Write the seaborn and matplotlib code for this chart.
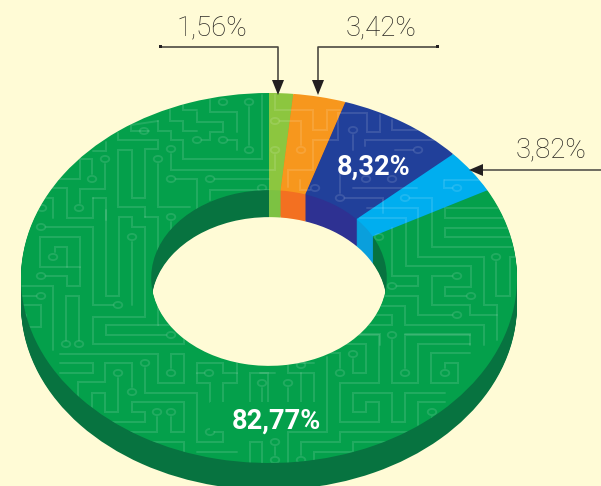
####
#imports
####

import matplotlib
matplotlib.use("Agg")
import matplotlib.pyplot as plt
from matplotlib.patches import Wedge, Rectangle, Polygon
from matplotlib.path import Path
from matplotlib.transforms import Affine2D
import seaborn as sns

####
#data
####

shares = [1.56, 3.42, 8.32, 3.82, 82.77]
share_labels = ["1,56%", "3,42%", "8,32%", "3,82%", "82,77%"]
top_colors = ["#8cc63f", "#f7971d", "#21409a", "#00aeef", "#04a04b"]
wall_colors = ["#7cc242", "#f37021", "#2e3192", "#0a9fdc", "#077340"]

BG = "#fffbd6"

# circuit decoration on the top face, in picture pixels
traces = [
    [(118,133),(118,140),(158,140),(158,149),(145,149),(145,198),(132,198),(132,150),(118,150),(118,207),(145,207),(145,217)],
    [(158,164),(158,207),(190,207)],
    [(171,154),(171,170),(275,170),(275,155)],
    [(176,179),(197,179),(197,213)],
    [(158,121),(158,131),(171,131),(171,140),(183,140),(183,159),(262,159),(262,95)],
    [(170,110),(170,121),(183,121),(183,131),(197,131)],
    [(183,105),(183,110),(197,110)],
    [(149,131),(131,131),(131,125),(158,121)],
    [(105,164),(105,189),(80,189),(80,203)],
    [(92,174),(92,159),(80,159),(80,179),(57,179)],
    [(93,198),(106,198),(106,220)],
    [(93,198),(93,218),(67,218),(67,188),(45,188)],
    [(43,198),(53,198),(53,218)],
    [(93,151),(106,151),(106,142)],
    [(210,100),(210,112),(237,112),(237,132)],
    [(197,112),(197,122),(223,122),(223,132),(210,132),(210,140),(202,140)],
    [(228,140),(237,140),(237,150)],
    [(249,107),(249,145)],
    [(215,179),(269,179)],
    [(210,200),(210,190),(269,190)],
    [(46,227),(93,227),(93,305),(113,305)],
    [(40,237),(80,237),(80,267),(40,267),(40,237)],
    [(55,252),(55,247),(67,247),(67,267)],
    [(46,276),(67,276),(67,286),(80,286),(80,267)],
    [(22,286),(53,286),(53,350)],
    [(22,296),(36,296)],
    [(22,305),(41,305),(41,327),(22,327)],
    [(66,340),(66,296),(79,296),(79,340)],
    [(106,210),(106,296),(119,296),(119,217),(132,217),(132,227),(145,227),(145,317),(93,317),(93,344),(184,344),(184,335)],
    [(132,242),(132,305)],
    [(145,217),(158,217),(158,325),(106,325),(106,335),(166,335)],
    [(171,222),(171,232)],
    [(158,325),(171,325)],
    [(60,354),(158,354),(158,383),(184,383),(184,354),(171,354),(171,368)],
    [(60,363),(93,363),(93,373),(60,373)],
    [(132,387),(132,363),(105,363),(105,382),(78,382),(78,397)],
    [(118,378),(118,412),(105,412),(105,393),(92,393),(92,407)],
    [(145,368),(145,393),(197,393),(197,442),(223,442),(223,432),(215,432)],
    [(171,417),(171,432),(184,432),(184,402),(132,402),(132,412),(145,412),(145,422),(105,422)],
    [(157,417),(157,432),(120,432)],
    [(120,442),(184,442),(184,452)],
    [(204,373),(197,373),(197,363),(223,363),(223,373),(237,373),(237,363)],
    [(197,373),(197,383),(210,383),(210,402)],
    [(237,373),(237,383),(223,383),(223,402)],
    [(250,402),(250,373),(268,373),(268,402)],
    [(262,388),(262,402)],
    [(197,452),(237,452)],
    [(250,465),(250,442),(262,442),(262,465)],
    [(260,373),(275,373)],
    [(288,363),(288,373),(314,373),(314,402)],
    [(288,363),(314,363)],
    [(288,388),(288,402)],
    [(301,373),(301,402)],
    [(327,357),(327,432),(288,432),(288,465)],
    [(275,447),(275,455)],
    [(301,455),(301,442),(340,442),(340,432),(407,432)],
    [(314,470),(314,452),(353,452),(353,442),(400,442)],
    [(340,368),(340,353),(328,353)],
    [(353,359),(353,373),(366,373),(366,344),(340,344)],
    [(353,335),(379,335),(379,383),(340,383),(340,422),(379,422),(379,402),(366,402),(366,412),(353,412),(353,393),(392,393),(392,422),(405,422),(405,393),(445,393)],
    [(392,340),(392,383),(418,383),(418,344),(470,344)],
    [(405,368),(405,335),(470,335)],
    [(470,353),(431,353),(431,383),(458,383),(458,363),(445,363),(445,368)],
    [(445,402),(418,402),(418,425)],
    [(432,417),(432,425)],
    [(360,218),(406,218),(406,266),(471,266),(471,287),(445,287),(445,296),(466,296)],
    [(367,208),(418,208),(418,257),(484,257),(484,305),(497,305),(497,340)],
    [(410,198),(432,198),(432,247),(512,247)],
    [(444,180),(444,188),(452,188)],
    [(505,208),(445,208),(445,218),(510,218)],
    [(512,228),(445,228),(445,237),(512,237)],
    [(392,228),(392,276),(418,276),(418,286),(397,286)],
    [(452,276),(432,276),(432,305),(470,305),(470,315),(497,315)],
    [(496,262),(496,296),(510,296),(510,257),(516,257)],
    [(452,315),(418,315),(418,296),(380,296)],
    [(380,306),(405,306),(405,325),(484,325),(484,345)],
    [(360,315),(392,315),(392,325),(363,325)],
    [(405,334),(470,334),(470,345)],
    [(360,334),(380,334),(380,345)],
    [(275,95),(275,110),(292,110),(313,110),(313,130),(327,130),(327,110),(340,110)],
    [(280,121),(301,121),(301,145)],
    [(288,187),(288,170),(313,170),(313,140),(338,140),(338,113),(367,113),(367,132),(380,132),(380,115)],
    [(353,135),(353,150)],
    [(392,120),(392,130),(417,130)],
    [(365,146),(365,140),(443,140)],
    [(413,150),(395,150)],
    [(300,180),(300,190),(310,190)],
    [(340,170),(340,193)],
    [(345,198),(383,198),(383,213)],
    [(353,188),(417,188)],
    [(445,180),(482,180)],
]
vias = [
    (144,131),(158,159),(171,149),(171,179),(197,140),(105,159),(92,179),(79,208),(42,208),
    (223,102),(249,102),(223,140),(249,150),(262,188),(210,179),
    (41,227),(53,257),(41,276),(118,305),(132,237),(41,296),(22,316),(171,217),
    (66,344),(79,344),(171,335),(171,373),(118,373),(132,392),(145,363),(210,432),
    (157,412),(171,412),(209,373),(262,383),(301,365),(288,383),
    (275,442),(275,460),(301,460),(340,373),(353,354),(392,335),(405,373),(445,373),(432,412),
    (379,237),(405,198),(457,188),(392,286),(457,276),(496,257),(471,296),(457,315),
    (275,121),(275,150),(301,150),(353,130),(418,150),(315,188),(340,198),(366,179),(392,179),
]

####
#plot
####

sns.set_theme(style="white")
plt.rcParams["font.family"] = ["Roboto", "DejaVu Sans"]

W, H = 601, 486
CX, CY = 269, 278
RX, RY = 248, 185
DEPTH = 27
HOLE = 0.475

fig = plt.figure(figsize=(W / 100, H / 100), dpi=100, facecolor=BG)
ax = fig.add_axes([0, 0, 1, 1])
ring = {"width": 1 - HOLE, "linewidth": 0}

# side walls: stacked copies going up from the lowest one
for d in range(DEPTH, 0, -1):
    ax.pie(shares, colors=sns.color_palette(wall_colors), startangle=90, counterclock=False,
           center=(0, -d / RY), radius=1, wedgeprops=ring)
ax.pie(shares, colors=sns.color_palette(top_colors), startangle=90, counterclock=False,
       center=(0, 0), radius=1, wedgeprops=ring)
ax.set_aspect("auto")
ax.set_xlim(-CX / RX, (W - CX) / RX)
ax.set_ylim(-(H - CY) / RY, CY / RY)

# overlay in picture pixels
over = fig.add_axes([0, 0, 1, 1], facecolor="none")
face = Wedge((0, 0), 1, 0, 360, width=1 - HOLE, transform=ax.transData)
trace_color = (1, 1, 1, 0.12)
for path in traces:
    line, = over.plot([p[0] for p in path], [p[1] for p in path], color=trace_color,
                      lw=1.4, solid_joinstyle="miter", zorder=2)
    line.set_clip_path(face)
flat_ring = Path.unit_circle().transformed(Affine2D().scale(1, 0.72))
rings = sns.scatterplot(x=[p[0] for p in vias], y=[p[1] for p in vias], ax=over, s=38, marker=flat_ring,
                        facecolor="none", edgecolor=trace_color, linewidth=1.3, zorder=2)
rings.collections[-1].set_clip_path(face)

# quiet patch behind the big label
over.add_patch(Rectangle((210, 402), 115, 29, color=top_colors[4], lw=0, zorder=3))

# leaders
lead = "#4d4a42"
sns.lineplot(x=[160, 278, 278], y=[47, 47, 82], ax=over, sort=False, estimator=None, color=lead, lw=1.2, zorder=4)
sns.lineplot(x=[437, 318, 318], y=[47, 47, 82], ax=over, sort=False, estimator=None, color=lead, lw=1.2, zorder=4)
sns.lineplot(x=[480, 601], y=[170, 170], ax=over, sort=False, estimator=None, color="#6f6c60", lw=1.4, zorder=4)
head = "#231f20"
over.add_patch(Polygon([(272, 80), (284, 80), (278, 95)], color=head, lw=0, zorder=5))
over.add_patch(Polygon([(312, 80), (324, 80), (318, 95)], color=head, lw=0, zorder=5))
over.add_patch(Polygon([(483, 164), (483, 176), (469, 170)], color=head, lw=0, zorder=5))
over.add_patch(Rectangle((158.5, 45.5), 3, 3, color=head, lw=0, zorder=5))
over.add_patch(Rectangle((435.5, 45.5), 3, 3, color=head, lw=0, zorder=5))

# labels
thin = {"fontsize": 19.8, "fontweight": "light", "color": "#2a2824", "ha": "center", "va": "center", "zorder": 6}
bold = {"fontsize": 19.6, "fontweight": "bold", "color": "white", "ha": "center", "va": "center", "zorder": 6}
over.text(212, 28, share_labels[0], **thin)
over.text(381, 28, share_labels[1], **thin)
over.text(551, 150, share_labels[3], **thin)
over.text(374, 167, share_labels[2], **bold)
over.text(276, 421, share_labels[4], **bold)

over.set_xlim(0, W)
over.set_ylim(H, 0)
over.set_axis_off()

fig.savefig("out.png", dpi=100, facecolor=BG)
plt.close(fig)
